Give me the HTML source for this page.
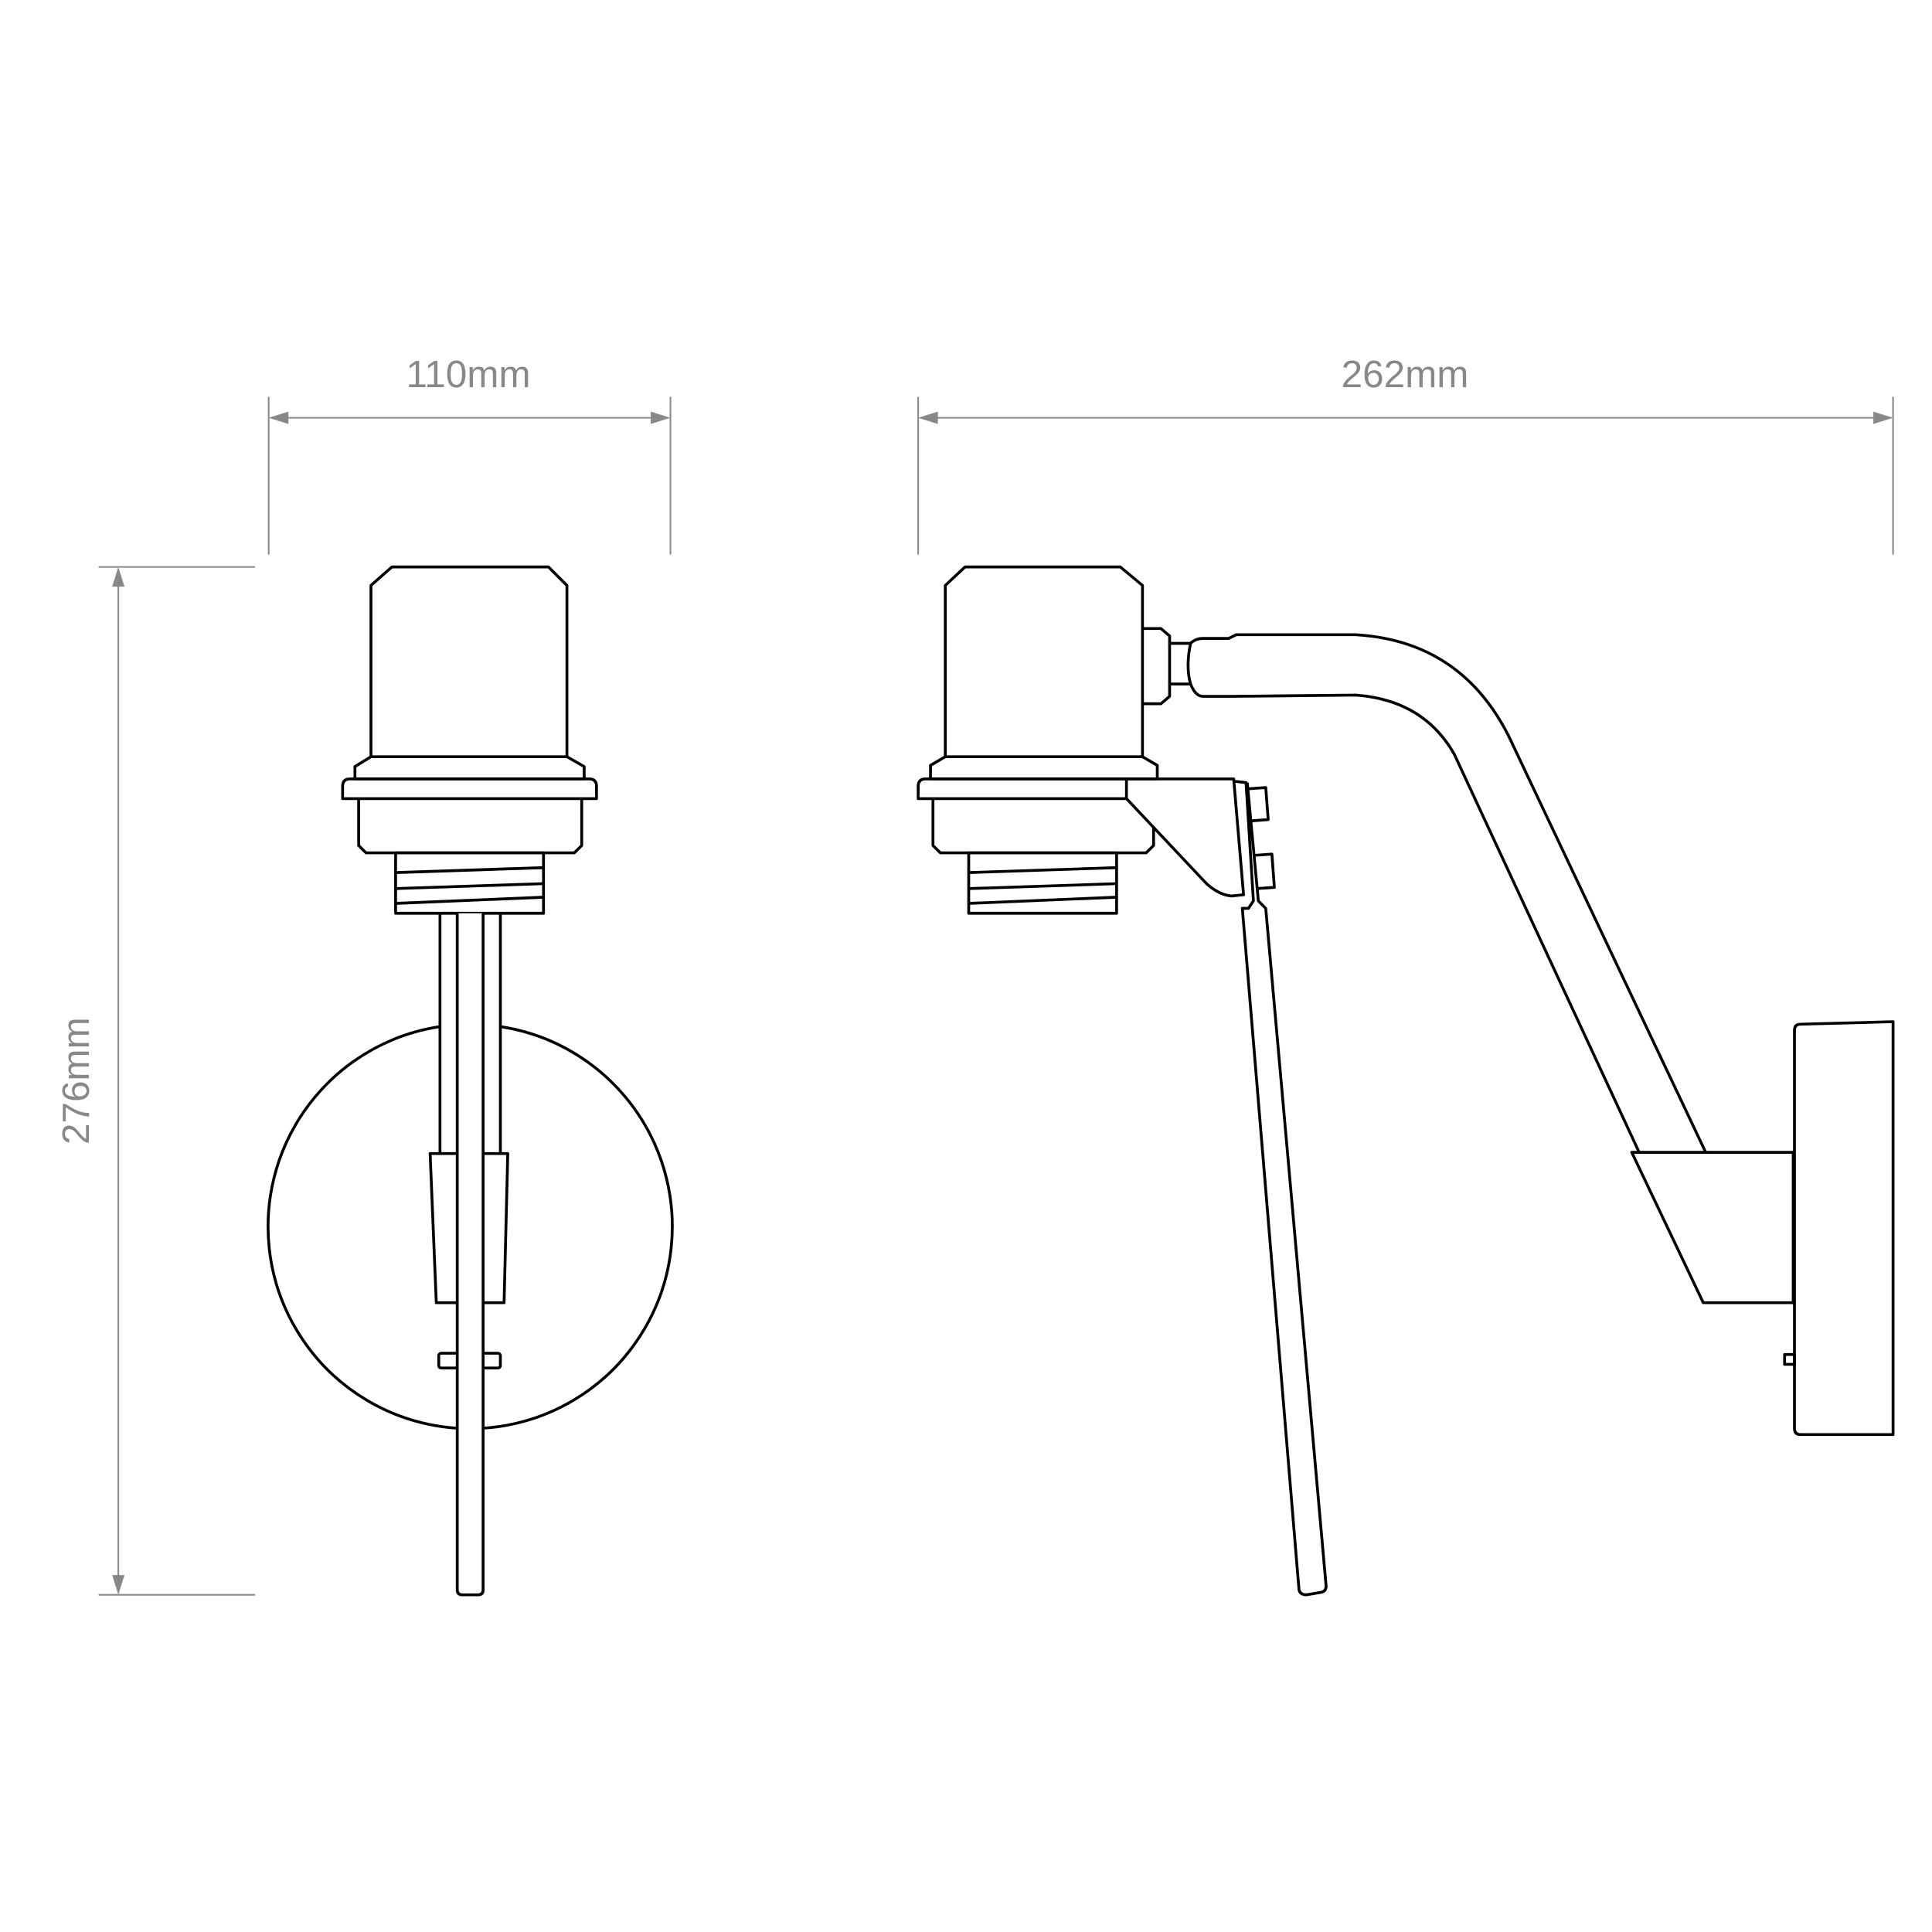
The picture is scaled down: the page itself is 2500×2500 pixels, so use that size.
<!DOCTYPE html>
<html><head><meta charset="utf-8"><style>html,body{margin:0;padding:0;background:#fff}svg{display:block}</style></head>
<body>
<svg width="2500" height="2500" viewBox="0 0 1567.6 1567.6" xmlns="http://www.w3.org/2000/svg">
<rect width="1567.6" height="1567.6" fill="#fff"/>
<g stroke="#888" stroke-width="1.3" fill="none">
<line x1="218" y1="322" x2="218" y2="450"/>
<line x1="544" y1="322" x2="544" y2="450"/>
<line x1="228" y1="339" x2="534" y2="339"/>
<line x1="745" y1="322" x2="745" y2="450"/>
<line x1="1536" y1="322" x2="1536" y2="450"/>
<line x1="755" y1="339" x2="1526" y2="339"/>
<line x1="80" y1="460" x2="207" y2="460"/>
<line x1="80" y1="1294" x2="207" y2="1294"/>
<line x1="96" y1="470" x2="96" y2="1284"/>
</g>
<g fill="#888">
<polygon points="218,339 234,334 234,344"/>
<polygon points="544,339 528,334 528,344"/>
<polygon points="745,339 761,334 761,344"/>
<polygon points="1536,339 1520,334 1520,344"/>
<polygon points="96,460 91,476 101,476"/>
<polygon points="96,1294 91,1278 101,1278"/>
</g>
<g font-family="'Liberation Sans',sans-serif" font-size="31" fill="#888">
<text x="380" y="314" text-anchor="middle">110mm</text>
<text x="1140" y="314" text-anchor="middle">262mm</text>
<text transform="translate(72,877) rotate(-90)" text-anchor="middle">276mm</text>
</g>
<g stroke="#000" stroke-width="2.3" fill="none" stroke-linejoin="round">
<path d="M301,614 V475 L318,460 H445 L460,475 V614 Z"/>
<path d="M301,614 L288,622 V632 H474 V622 L460,614"/>
<path d="M278,648 V638 Q278,632 284,632 H478 Q484,632 484,638 V648 Z"/>
<path d="M291,648 V686 L297,692 H466 L472,686 V648"/>
<rect x="321" y="692" width="120" height="49"/>
<line x1="321" y1="708" x2="441" y2="704"/>
<line x1="321" y1="721" x2="441" y2="717"/>
<line x1="321" y1="733" x2="441" y2="728"/>
<path d="M357,833 A164,164 0 1 0 406,833"/>
<line x1="357" y1="741" x2="357" y2="936"/>
<line x1="406" y1="741" x2="406" y2="936"/>
<path d="M349,936 H412 L409,1057 H354 Z" fill="#fff"/>
<rect x="356" y="1098" width="50" height="12" rx="2" fill="#fff"/>
<path d="M371,741 V1290 Q371,1294 375,1294 H388 Q392,1294 392,1290 V741" fill="#fff"/>
<path d="M767,614 V475 L783,460 H909 L927,475 V614 Z"/>
<path d="M767,614 L755,621 V632 H939 V621 L927,614"/>
<path d="M927,510 H942 L949,516 V522 H966 Q962,541 966,555 H949 V565 L942,571 H927"/>
<line x1="949" y1="522" x2="949" y2="555"/>
<path d="M966,522 Q970,518 976,518 H997 L1003,515 H1100 Q1185,520 1224,597 L1384,935"/>
<path d="M966,555 Q970,565 976,565 H1000 L1100,564 Q1155,568 1180,612 L1330,935"/>
<path d="M745,648 V638 Q745,632 751,632 H1001 L1009,726 L999,727 Q989,726 979,717 L914,648 Z"/>
<line x1="914" y1="632" x2="914" y2="648"/>
<path d="M757,648 V686 L763,692 H930 L936,686 V671"/>
<rect x="786" y="692" width="120" height="49"/>
<line x1="786" y1="708" x2="906" y2="704"/>
<line x1="786" y1="721" x2="906" y2="717"/>
<line x1="786" y1="733" x2="906" y2="728"/>
<path d="M1002,634 L1011,635 L1017,731 L1013,737 L1008,737 L1054,1290 Q1055,1294 1060,1294 L1072,1292 Q1076,1291 1076,1287 L1027,737 L1021,731 L1012,635"/>
<path d="M1013,640 L1027,639 L1029,665 L1016,666"/>
<path d="M1018,694 L1032,693 L1034,720 L1020,721"/>
<path d="M1324,935 H1455 V1057 H1382 Z"/>
<path d="M1456,836 Q1456,831 1461,831 L1536,829 V1164 H1461 Q1456,1164 1456,1159 Z"/>
<rect x="1448" y="1099" width="8" height="8"/>
</g>
</svg>
</body></html>
